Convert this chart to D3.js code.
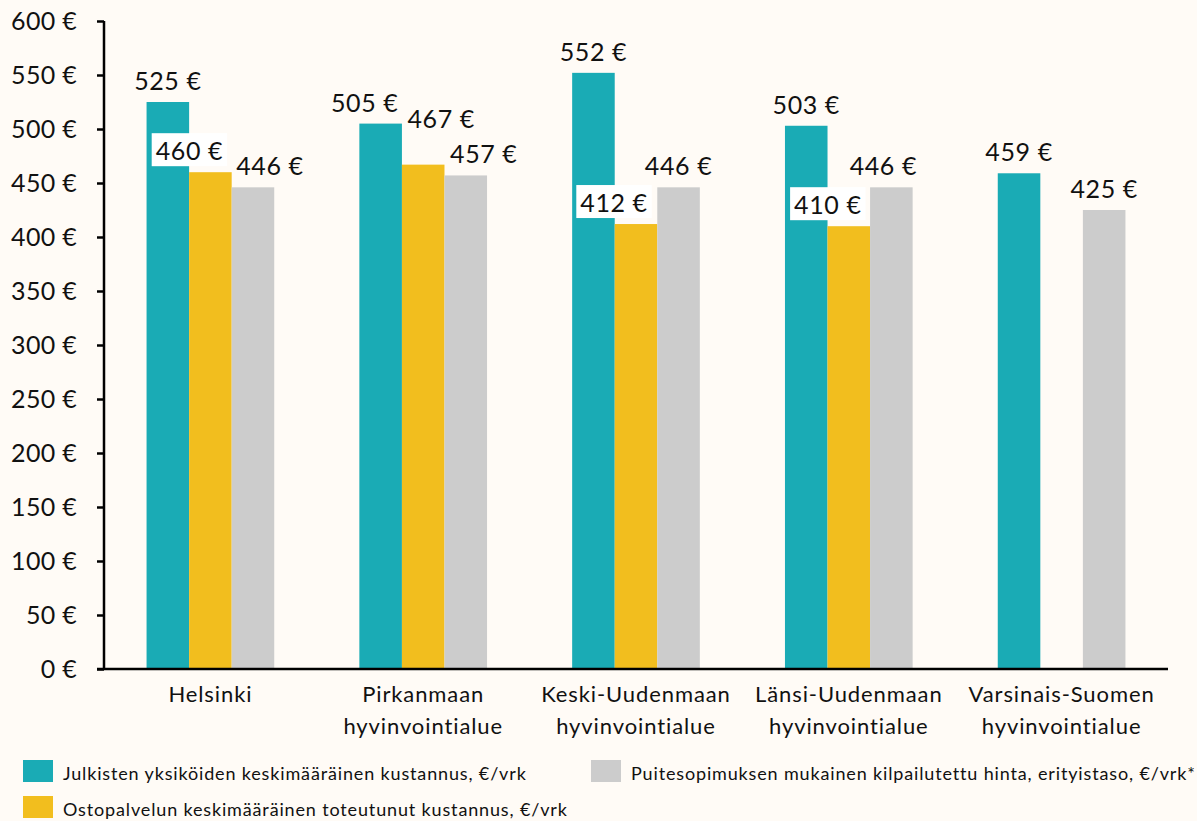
<!DOCTYPE html>
<html>
<head>
<meta charset="utf-8">
<script src="https://cdn.jsdelivr.net/npm/d3@7"></script>
<style>
  html, body { margin: 0; padding: 0; background: #fffbf6; }
  svg { display: block; font-family: Lato, "Open Sans", sans-serif; font-variant-ligatures: none; }
</style>
</head>
<body>
<div id="chart"></div>
<script>
// categories (two-line labels split on \n)
const regions = [
  "Helsinki",
  "Pirkanmaan\nhyvinvointialue",
  "Keski-Uudenmaan\nhyvinvointialue",
  "Länsi-Uudenmaan\nhyvinvointialue",
  "Varsinais-Suomen\nhyvinvointialue"
];
const seriesNames = [
  "Julkisten yksiköiden keskimääräinen kustannus, €/vrk",
  "Ostopalvelun keskimääräinen toteutunut kustannus, €/vrk",
  "Puitesopimuksen mukainen kilpailutettu hinta, erityistaso, €/vrk*"
];
const julkiset = [525, 505, 552, 503, 459];
const ostopalvelu = [460, 467, 412, 410, null];
const puitesopimus = [446, 457, 446, 446, 425];
const yTicks = [0, 50, 100, 150, 200, 250, 300, 350, 400, 450, 500, 550, 600];

const colors = ["#1aabb5", "#f2be1e", "#cccccc"];

// label nudges, the way the labels were dragged in the original (layout only)
// [series][region] -> [dx, dy, boxed]
const labelNudge = [
  [[0, 0], [-16, 0], [0, 0], [0, 0], [0, 0]],
  [[-21, 0, true], [18, -25], [-22, 0, true], [-21, 0, true], [0, 0]],
  [[17, 0], [18, 0], [0, 0], [-8, 0], [0, 0]]
];

const width = 1197, height = 821;
const margin = {left: 104, right: 29, top: 21, bottom: 152};

const rows = [];
const values = [julkiset, ostopalvelu, puitesopimus];
regions.forEach((r, i) => {
  values.forEach((vals, s) => {
    if (vals[i] != null) rows.push({region: r, ri: i, s, value: vals[i]});
  });
});

const svg = d3.select("#chart").append("svg")
  .attr("width", width)
  .attr("height", height);

svg.append("rect").attr("width", width).attr("height", height).attr("fill", "#fffbf6");

const x0 = d3.scaleBand()
  .domain(regions)
  .range([margin.left, width - margin.right])
  .paddingInner(0.4)
  .paddingOuter(0.2);

const x1 = d3.scaleBand()
  .domain([0, 1, 2])
  .range([0, x0.bandwidth()]);

const y = d3.scaleLinear()
  .domain([0, 600])
  .range([height - margin.bottom, margin.top]);

// y axis
const yAxis = svg.append("g")
  .attr("transform", `translate(${margin.left},0)`)
  .call(d3.axisLeft(y).tickValues(yTicks).tickSize(7).tickPadding(20).tickFormat(d => d + " €"));
yAxis.select(".domain").attr("stroke", "#000").attr("stroke-width", 2.5)
  .attr("d", `M0,${y(600)}V${y(0)}`);
yAxis.selectAll(".tick line").attr("stroke", "#000").attr("stroke-width", 2.5);
yAxis.selectAll(".tick text")
  .attr("font-size", 25)
  .attr("font-family", "Lato, sans-serif")
  .attr("letter-spacing", 0.3)
  .attr("fill", "#111");

// bars
svg.append("g")
  .selectAll("rect")
  .data(rows)
  .join("rect")
    .attr("x", d => x0(d.region) + x1(d.s))
    .attr("y", d => y(d.value))
    .attr("width", x1.bandwidth())
    .attr("height", d => y(0) - y(d.value))
    .attr("fill", d => colors[d.s]);

// baseline
svg.append("line")
  .attr("x1", margin.left - 7)
  .attr("x2", width - margin.right)
  .attr("y1", y(0)).attr("y2", y(0))
  .attr("stroke", "#000").attr("stroke-width", 2.5);

// data labels
const labels = svg.append("g")
  .selectAll("g")
  .data(rows)
  .join("g")
    .attr("transform", d => {
      const n = labelNudge[d.s][d.ri];
      const cx = x0(d.region) + x1(d.s) + x1.bandwidth() / 2 + n[0];
      return `translate(${cx},${y(d.value) - 12 + n[1]})`;
    });

labels.append("text")
  .attr("text-anchor", "middle")
  .attr("font-size", 25)
  .attr("letter-spacing", 0.6)
  .attr("fill", "#111")
  .text(d => d.value + " €");

labels.each(function(d) {
  if (!labelNudge[d.s][d.ri][2]) return;
  const g = d3.select(this);
  const w = g.select("text").node().getComputedTextLength();
  g.insert("rect", "text")
    .attr("x", -w / 2 - 4)
    .attr("y", -27)
    .attr("width", w + 8)
    .attr("height", 33)
    .attr("fill", "#fff");
});

// category labels
svg.append("g")
  .selectAll("text")
  .data(regions)
  .join("text")
    .attr("x", d => x0(d) + x0.bandwidth() / 2)
    .attr("y", 702)
    .attr("text-anchor", "middle")
    .attr("font-size", 22)
    .attr("letter-spacing", 0.9)
    .attr("fill", "#111")
    .selectAll("tspan")
    .data(d => d.split("\n"))
    .join("tspan")
      .attr("x", function() { return this.parentNode.getAttribute("x"); })
      .attr("dy", (d, i) => i ? 32 : 0)
      .text(d => d);

// legend
const legendPos = [[23, 760], [23, 796], [591, 760]];
const legend = svg.append("g")
  .selectAll("g")
  .data(seriesNames)
  .join("g")
    .attr("transform", (d, i) => `translate(${legendPos[i][0]},${legendPos[i][1]})`);
legend.append("rect")
  .attr("width", 30).attr("height", 22)
  .attr("fill", (d, i) => colors[i]);
legend.append("text")
  .attr("x", 40).attr("y", 20)
  .attr("font-size", 18)
  .attr("letter-spacing", 0.85)
  .attr("fill", "#111")
  .text(d => d);
</script>
</body>
</html>
